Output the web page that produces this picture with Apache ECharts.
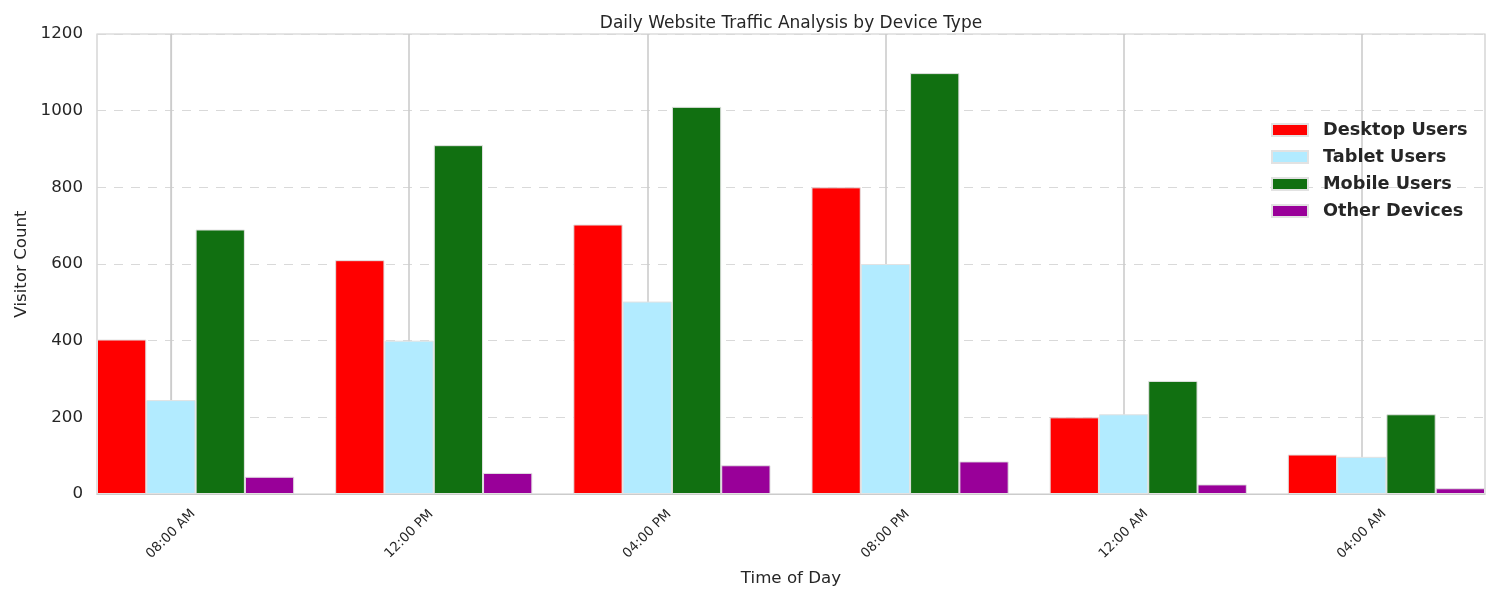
<!DOCTYPE html>
<html>
<head>
<meta charset="utf-8">
<script src="https://cdn.jsdelivr.net/npm/echarts@6/dist/echarts.min.js"></script>
<style>
html,body{margin:0;padding:0;background:#fff;}
#chart{width:1500px;height:600px;}
</style>
</head>
<body>
<div id="chart"></div>
<script>
// ---- data ----
const categories = ['08:00 AM', '12:00 PM', '04:00 PM', '08:00 PM', '12:00 AM', '04:00 AM'];
const desktopUsers = [403, 610, 703, 800, 200, 103];
const tabletUsers = [245, 400, 502, 600, 208, 97];
const mobileUsers = [690, 910, 1010, 1098, 295, 208];
const otherDevices = [45, 55, 75, 85, 25, 15];
const seriesNames = ['Desktop Users', 'Tablet Users', 'Mobile Users', 'Other Devices'];
const yTicks = [0, 200, 400, 600, 800, 1000, 1200];

// ---- layout ----
const GRID_LEFT = 97, GRID_RIGHT = 15, GRID_TOP = 34, GRID_BOTTOM = 106;
const W = 0.207;                 // bar width in category units
const offsets = [-1, 0, 1, 2];   // bar offset (in bar widths) from tick
const xMin = -1.5 * W;
const xMax = (categories.length - 1) + 2.5 * W;
const plotWidth = 1500 - GRID_LEFT - GRID_RIGHT;
const barPx = plotWidth / (xMax - xMin) * W;

const colors = ['#ff0000', '#b2ebff', '#117011', '#990099'];
const allSeries = [desktopUsers, tabletUsers, mobileUsers, otherDevices];
const textColor = '#262626';
const FONT = 'DejaVu Sans';

const chart = echarts.init(document.getElementById('chart'), null, {renderer: 'canvas'});

const series = allSeries.map((vals, k) => ({
  name: seriesNames[k],
  type: 'bar',
  barWidth: barPx,
  barGap: '-100%',
  itemStyle: {color: colors[k], borderColor: '#e2e2e2', borderWidth: 1},
  emphasis: {disabled: true},
  data: vals.map((v, i) => [i + offsets[k] * W, v])
}));

chart.setOption({
  animation: false,
  backgroundColor: '#ffffff',
  textStyle: {fontFamily: FONT},
  title: {
    text: 'Daily Website Traffic Analysis by Device Type',
    left: GRID_LEFT + plotWidth / 2,
    top: 15,
    padding: 0,
    textAlign: 'center',
    textStyle: {fontFamily: FONT, fontSize: 17, fontWeight: 'normal', color: textColor}
  },
  legend: {
    orient: 'vertical',
    left: 1271,
    top: 121,
    padding: 0,
    itemWidth: 36,
    itemHeight: 12,
    itemGap: 9,
    icon: 'rect',
    selectedMode: false,
    data: seriesNames,
    textStyle: {fontFamily: FONT, fontSize: 17.7, fontWeight: 'bold', color: textColor, padding: [0, 0, 0, 10]}
  },
  grid: {
    left: GRID_LEFT, right: GRID_RIGHT, top: GRID_TOP, bottom: GRID_BOTTOM,
    show: true, borderColor: '#cccccc', borderWidth: 1.2, backgroundColor: 'transparent'
  },
  xAxis: {
    type: 'value',
    min: xMin,
    max: xMax,
    name: 'Time of Day',
    nameLocation: 'middle',
    nameGap: 76,
    nameTextStyle: {fontFamily: FONT, fontSize: 16.67, color: textColor},
    axisLine: {show: true, lineStyle: {color: '#cccccc', width: 1.2}},
    axisTick: {show: false, customValues: categories.map((c, i) => i)},
    axisLabel: {
      customValues: categories.map((c, i) => i),
      formatter: v => categories[Math.round(v)] || '',
      rotate: 45,
      align: 'center',
      verticalAlign: 'middle',
      margin: 40,
      fontFamily: FONT,
      fontSize: 13.3,
      color: textColor
    },
    splitLine: {show: true, lineStyle: {color: '#cccccc', width: 1.6, type: 'solid'}}
  },
  yAxis: {
    type: 'value',
    min: yTicks[0],
    max: yTicks[yTicks.length - 1],
    interval: 200,
    name: 'Visitor Count',
    nameLocation: 'middle',
    nameGap: 67,
    nameTextStyle: {fontFamily: FONT, fontSize: 16.67, color: textColor},
    axisLine: {show: true, lineStyle: {color: '#cccccc', width: 1.2}},
    axisTick: {show: false},
    axisLabel: {margin: 14, fontFamily: FONT, fontSize: 16.67, color: textColor, formatter: v => String(v)},
    splitLine: {show: true, lineStyle: {color: '#d9d9d9', width: 1, type: [9, 8]}}
  },
  series: series
});
</script>
</body>
</html>
